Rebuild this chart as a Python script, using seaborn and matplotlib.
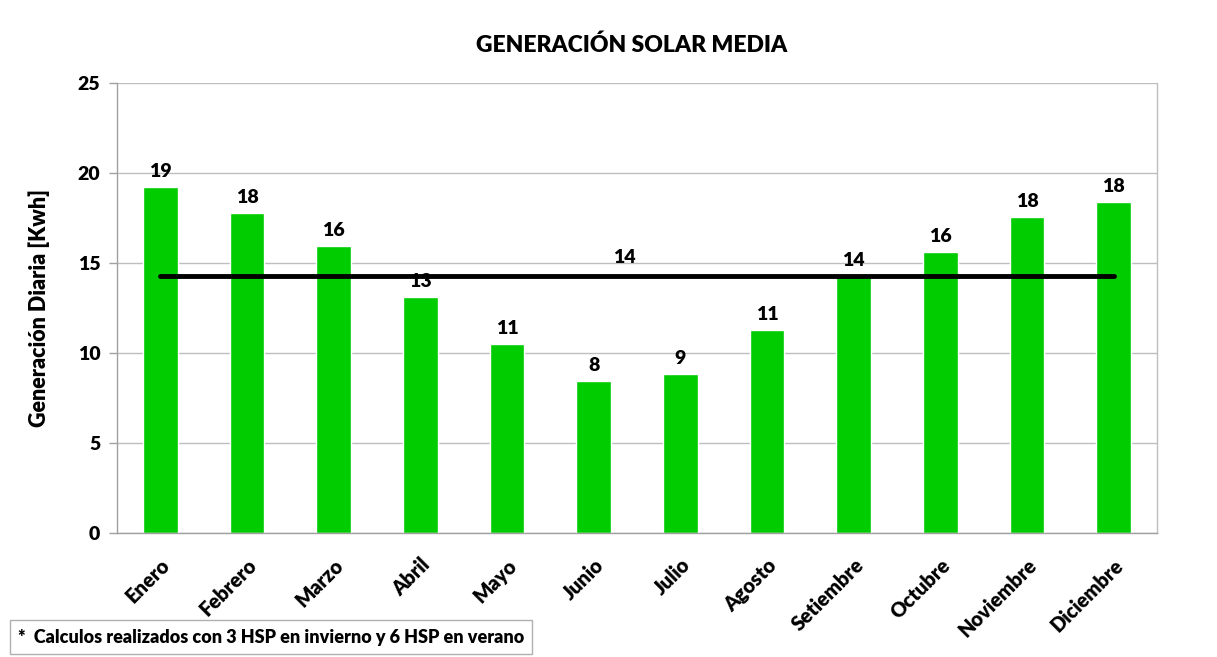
import numpy as np
import pandas as pd
import matplotlib
matplotlib.use("Agg")
import matplotlib.pyplot as plt
import seaborn as sns

# ---- data ----
meses = ["Enero", "Febrero", "Marzo", "Abril", "Mayo", "Junio", "Julio",
         "Agosto", "Setiembre", "Octubre", "Noviembre", "Diciembre"]
generacion = [19.24, 17.79, 15.96, 13.13, 10.52, 8.46, 8.85, 11.29, 14.27, 15.63, 17.57, 18.41]
promedio = 14.27
titulo = "GENERACIÓN SOLAR MEDIA"
eje_y = "Generación Diaria [Kwh]"
nota = "*  Calculos realizados con 3 HSP en invierno y 6 HSP en verano"
yticks = [0, 5, 10, 15, 20, 25]

W = "heavy"

sns.set_theme(style="white")
plt.rcParams["font.family"] = ["Lato", "DejaVu Sans"]
plt.rcParams["font.weight"] = W
plt.rcParams["text.color"] = "black"
plt.rcParams["axes.labelcolor"] = "black"
plt.rcParams["xtick.color"] = "black"
plt.rcParams["ytick.color"] = "black"

df = pd.DataFrame({"mes": meses, "kwh": generacion})

fig = plt.figure(figsize=(12.17, 6.57), dpi=100)
ax = fig.add_axes([117 / 1217, 1 - 533 / 657, (1157 - 117) / 1217, (533 - 83) / 657])

sns.barplot(data=df, x="mes", y="kwh", color="#00CC00", saturation=1,
            width=0.4, ax=ax, zorder=2)
for c in ax.containers:
    ax.bar_label(c, labels=[f"{round(v)}" for v in generacion], padding=5,
                 fontsize=14, fontweight=W, color="black")

pos = np.arange(len(meses))
ax.plot(pos, [promedio] * len(meses), color="black", lw=3.5, zorder=3,
        solid_capstyle="round")
ax.text((len(meses) - 1) / 2 - 0.15, promedio + 0.55, f"{round(promedio)}",
        ha="center", va="bottom", fontsize=14, fontweight=W, zorder=4,
        color="black")

ax.set_ylim(0, 25)
ax.set_xlim(-0.5, len(meses) - 0.5)
ax.set_yticks(yticks)
ax.set_yticklabels([str(t) for t in yticks], fontsize=14, fontweight=W,
                   color="black")
ax.yaxis.grid(True, color="#BEBEBE", lw=1, zorder=0)
ax.set_axisbelow(True)

ax.set_xticks(pos)
ax.set_xticklabels(meses, rotation=45, ha="right", rotation_mode="anchor",
                   fontsize=14.5, fontweight=W, color="black")
ax.set_xticks(np.arange(-0.5, len(meses), 1), minor=True)
ax.tick_params(axis="x", which="major", length=0, pad=16)
ax.tick_params(axis="x", which="minor", length=7, color="#A0A0A0", width=1)
ax.tick_params(axis="y", which="major", length=6, color="#A0A0A0", width=1,
               pad=6, left=True)
ax.set_xlabel("")
ax.set_ylabel(eje_y, fontsize=15.5, fontweight=W, labelpad=20, color="black")

for s in ["left", "right", "bottom", "top"]:
    ax.spines[s].set_color("#BEBEBE")
    ax.spines[s].set_linewidth(1)
ax.spines["left"].set_color("#A0A0A0")
ax.spines["bottom"].set_color("#A0A0A0")
ax.spines["top"].set_visible(False)

fig.text(632 / 1217, 1 - 45 / 657, titulo, ha="center", va="center",
         fontsize=16.5, fontweight=W, color="black")

fig.text(18 / 1217, 1 - 637 / 657, nota, ha="left", va="center", fontsize=13,
         fontweight=W, color="black",
         bbox=dict(boxstyle="square,pad=0.45", fc="white", ec="#B0B0B0", lw=1))

fig.savefig("out.png", dpi=100, facecolor="white")
